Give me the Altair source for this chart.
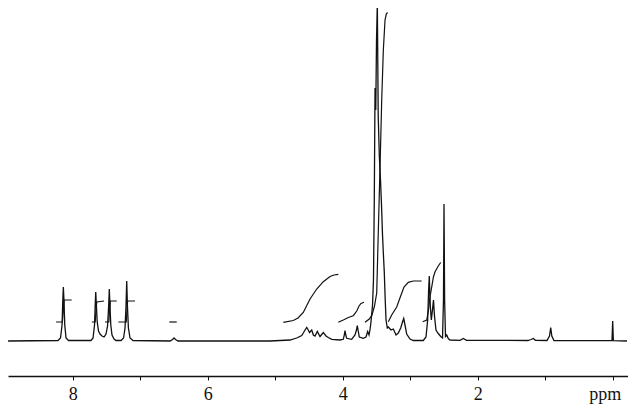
import altair as alt
import pandas as pd

# 1H NMR trace: chemical shift (ppm) and intensity (arbitrary units)
spec_ppm = [8.958, 8.218, 8.181, 8.158, 8.147, 8.139, 8.130, 8.118, 8.099, 8.062,
            7.729, 7.699, 7.677, 7.667, 7.659, 7.650, 7.637, 7.618, 7.596, 7.566, 7.536,
            7.507, 7.484, 7.467, 7.458, 7.449, 7.436, 7.418, 7.388, 7.359,
            7.284, 7.247, 7.225, 7.210, 7.200, 7.190, 7.175, 7.151, 7.107,
            6.558, 6.521, 6.499, 6.477, 6.440,
            5.077, 4.781, 4.681, 4.607, 4.584, 4.558, 4.533, 4.510, 4.492, 4.459, 4.435,
            4.410, 4.376, 4.336, 4.287, 4.247, 4.213, 4.163, 4.040, 3.991, 3.976, 3.966,
            3.954, 3.941, 3.867, 3.818, 3.796, 3.784, 3.770, 3.754, 3.695, 3.655, 3.630,
            3.610, 3.596, 3.581, 3.558, 3.544, 3.532, 3.521, 3.510, 3.499, 3.487, 3.474,
            3.458, 3.440, 3.425, 3.410, 3.398, 3.384, 3.370, 3.358, 3.339, 3.324, 3.284,
            3.250, 3.210, 3.176, 3.141, 3.114, 3.096, 3.077, 3.052, 3.003, 2.954,
            2.806, 2.766, 2.741, 2.727, 2.717, 2.702, 2.687, 2.670, 2.655, 2.640, 2.618,
            2.584, 2.548, 2.521, 2.507, 2.499, 2.490, 2.477, 2.459, 2.436, 2.410,
            2.262, 2.213, 2.166, 1.255, 1.210, 1.176, 1.144,
            0.973, 0.936, 0.918, 0.902, 0.870, 0.010, 0.000, -0.010, -0.212]
spec_int = [0, 0.5, 3, 16, 41, 54, 41, 16, 3, 0.5,
            0.5, 3, 16, 36, 49, 36, 19, 10, 7, 5, 4,
            7, 15, 36, 52, 36, 16, 6, 2, 0.5,
            0.5, 3, 13, 36, 60, 36, 13, 3, 0.5,
            0, 1.5, 3, 1.5, 0,
            0, 1, 3, 5.5, 8, 11, 13.5, 11, 8.5, 11, 6,
            5, 9.5, 4.5, 8.5, 5, 3.5, 1.7, 1, 1.7, 6, 10.5,
            6, 2.7, 1.7, 6, 11, 15.5, 10, 4, 2.7, 4, 9.5,
            6, 11, 19, 36, 61, 141, 253, 231, 301, 338, 226,
            186, 161, 136, 106, 88, 69, 41, 21, 13, 14, 11,
            12, 6, 8, 13, 19, 22.5, 16, 7, 2, 0.5,
            0.5, 4, 21, 51, 65, 35, 21, 31, 41, 25, 11,
            7.5, 4.5, 3, 41, 137, 41, 4.5, 6, 2.5, 1,
            0.7, 2.5, 0.7, 0.5, 1.5, 2.5, 0.7,
            0.5, 5, 13.5, 5, 0.5, 0.3, 20, 0.3, 0]

# Integral traces (one list per integrated region)
integral_ppm = [
    [8.247, 8.154, 8.139, 8.129, 8.015],
    [7.718, 7.667, 7.658, 7.644, 7.536],
    [7.521, 7.465, 7.455, 7.443, 7.348],
    [7.324, 7.207, 7.197, 7.187, 7.077],
    [6.569, 6.459],
    [4.880, 4.732, 4.662, 4.584, 4.536, 4.484, 4.385, 4.287, 4.188, 4.129, 4.065],
    [4.065, 3.991, 3.917, 3.843, 3.792, 3.758, 3.729, 3.684],
    [3.670, 3.606, 3.566, 3.529, 3.496, 3.473, 3.447, 3.422, 3.398, 3.373, 3.354, 3.336],
    [3.324, 3.274, 3.200, 3.141, 3.092, 3.028, 2.954, 2.830],
    [2.815, 2.755, 2.729, 2.707, 2.681, 2.656, 2.633, 2.584, 2.548],
]
integral_val = [
    [19, 19, 30, 41, 41],
    [19, 19, 28, 39, 40],
    [19, 19, 30, 40, 40],
    [19, 19, 30, 40, 40],
    [19, 19],
    [18.7, 20.5, 23, 28.5, 35, 42, 52, 59.3, 64.5, 66, 66.7],
    [18.7, 21, 23.5, 25.3, 30, 35, 37.5, 38.7],
    [18.7, 22, 26, 35, 48, 108, 174, 241, 291, 321, 327, 328.5],
    [19.3, 26, 34, 45, 54, 58.7, 60, 60],
    [19.3, 21, 31, 44, 54, 64, 69, 75, 78.5],
]

tick_values = [0, 0.5, 1, 1.5, 2, 2.5, 3, 3.5, 4, 4.5, 5, 5.5, 6, 6.5, 7, 7.5, 8, 8.5]

spec_df = pd.DataFrame({"ppm": spec_ppm, "v": spec_int, "i": range(len(spec_ppm))})
rows = []
for g, (xs, ys) in enumerate(zip(integral_ppm, integral_val)):
    for k, (a, b) in enumerate(zip(xs, ys)):
        rows.append({"ppm": a, "v": b, "g": g, "i": k})
int_df = pd.DataFrame(rows)

xscale = alt.Scale(domain=[-0.227, 8.959], reverse=True, nice=False, zero=False)
yscale = alt.Scale(domain=[-35, 333], nice=False, zero=False)

xaxis = alt.Axis(
    values=tick_values,
    labelExpr="datum.value == 0 ? 'ppm' : (datum.value == 2 || datum.value == 4 || datum.value == 6 || datum.value == 8 ? '' + datum.value : '')",
    labelOffset={"condition": {"test": "datum.value == 0", "value": -8}, "value": 0},
    title=None,
    grid=False,
    domainColor="#111111",
    domainWidth=1.5,
    tickColor="#111111",
    tickSize=4,
    tickWidth=1,
    labelFont="Liberation Serif",
    labelFontSize=18,
    labelColor="#111111",
    labelPadding=5,
    labelFlush=False,
    labelOverlap=False,
)

spec = alt.Chart(spec_df).mark_line(color="#111111", strokeWidth=1.3, clip=True).encode(
    x=alt.X("ppm:Q", scale=xscale, axis=xaxis),
    y=alt.Y("v:Q", scale=yscale, axis=None),
    order="i:Q",
)

integ = alt.Chart(int_df).mark_line(color="#111111", strokeWidth=1.2, clip=True).encode(
    x=alt.X("ppm:Q", scale=xscale),
    y=alt.Y("v:Q", scale=yscale),
    detail="g:N",
    order="i:Q",
)

chart = (spec + integ).properties(
    width=620,
    height=368,
    autosize=alt.AutoSizeParams(type="none"),
    padding={"left": 0, "top": 0, "right": 0, "bottom": 30},
    background="white",
).configure_view(stroke=None)

chart.save("out.html", embed_options={"renderer": "svg", "actions": False})
